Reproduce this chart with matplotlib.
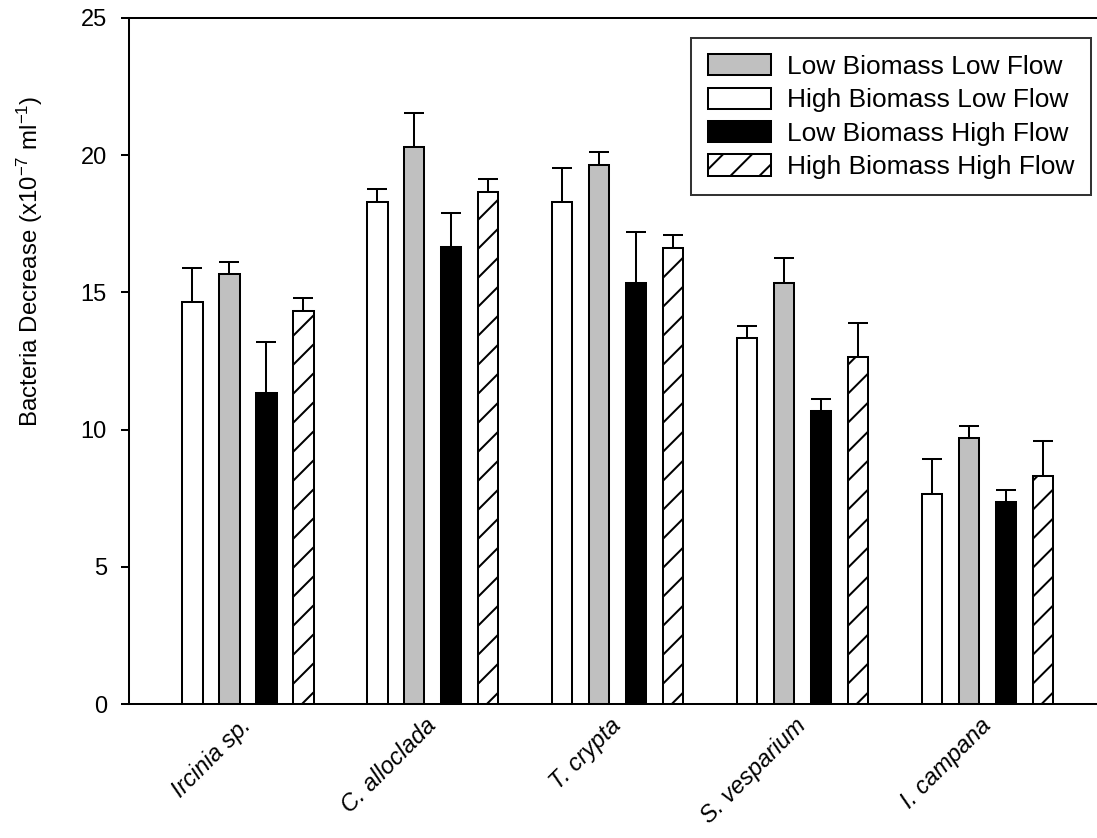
import numpy as np
import matplotlib
matplotlib.use("Agg")
import matplotlib.pyplot as plt
from matplotlib.patches import Rectangle
from matplotlib.collections import LineCollection
from matplotlib.legend_handler import HandlerBase

plt.rcParams["font.family"] = ["Liberation Sans", "DejaVu Sans"]
plt.rcParams["mathtext.fontset"] = "custom"
plt.rcParams["mathtext.rm"] = "Liberation Sans"
plt.rcParams["mathtext.default"] = "regular"

# ---- data -------------------------------------------------------------
species = ["Ircinia sp.", "C. alloclada", "T. crypta", "S. vesparium", "I. campana"]

high_bio_low_flow = [14.65, 18.30, 18.30, 13.33, 7.65]
high_bio_low_flow_se = [1.25, 0.48, 1.24, 0.46, 1.27]

low_bio_low_flow = [15.67, 20.31, 19.64, 15.33, 9.68]
low_bio_low_flow_se = [0.44, 1.24, 0.48, 0.92, 0.44]

low_bio_high_flow = [11.34, 16.66, 15.33, 10.69, 7.35]
low_bio_high_flow_se = [1.86, 1.23, 1.86, 0.42, 0.45]

high_bio_high_flow = [14.31, 18.65, 16.62, 12.66, 8.31]
high_bio_high_flow_se = [0.47, 0.47, 0.48, 1.24, 1.26]

y_ticks = [0, 5, 10, 15, 20, 25]

# ---- styling ----------------------------------------------------------
LW = 1.45
GRAY = "#c0c0c0"
HATCH_STEP_PX = 29.0
bar_w = 0.11
offsets = [-0.3, -0.1, 0.1, 0.3]

fig = plt.figure(figsize=(10.97, 8.38), dpi=100)
ax = fig.add_axes([129 / 1097, 1 - 704 / 838, (1097 - 129) / 1097, (704 - 18) / 838])
ax.set_xlim(-0.643, 4.592)
ax.set_ylim(0, 25)

x = np.arange(len(species))

series = [
    (high_bio_low_flow, high_bio_low_flow_se, "white", "High Biomass Low Flow"),
    (low_bio_low_flow, low_bio_low_flow_se, GRAY, "Low Biomass Low Flow"),
    (low_bio_high_flow, low_bio_high_flow_se, "black", "Low Biomass High Flow"),
    (high_bio_high_flow, high_bio_high_flow_se, "white", "High Biomass High Flow"),
]

containers = []
for (vals, se, color, label), off in zip(series, offsets):
    xs = x + off
    bc = ax.bar(xs, vals, width=bar_w, color=color, edgecolor="black",
                linewidth=LW, label=label, zorder=2)
    ax.errorbar(xs, vals, yerr=[np.zeros(len(vals)), se], fmt="none",
                ecolor="black", elinewidth=LW, capsize=7.2, capthick=LW,
                zorder=1.5)
    containers.append(bc)


def hatch_segments(x0, y0, w, h, step):
    """Diagonal (45 deg) segments covering a box, in the box's own units."""
    segs = []
    c = -w + (step * 0.4)
    while c < h:
        segs.append([(x0, y0 + c), (x0 + w, y0 + c + w)])
        c += step
    return segs


# sparse diagonal hatching on the last series, laid out in pixel space
inv = ax.transData.inverted()
for rect in containers[3].patches:
    (px0, py0) = ax.transData.transform((rect.get_x(), 0))
    (px1, py1) = ax.transData.transform((rect.get_x() + rect.get_width(), rect.get_height()))
    segs_px = hatch_segments(px0, py0, px1 - px0, py1 - py0, HATCH_STEP_PX)
    segs = [inv.transform(np.array(s)) for s in segs_px]
    lc = LineCollection(segs, colors="black", linewidths=LW, zorder=2.1)
    ax.add_collection(lc)
    lc.set_clip_path(rect)


class SparseHatchHandler(HandlerBase):
    def create_artists(self, legend, orig_handle, xdescent, ydescent,
                       width, height, fontsize, trans):
        r = Rectangle((-xdescent, -ydescent), width, height, facecolor="white",
                      edgecolor="black", linewidth=LW, transform=trans)
        step_pt = HATCH_STEP_PX * 72.0 / fig.dpi
        segs = hatch_segments(-xdescent, -ydescent, width, height, step_pt)
        lc = LineCollection(segs, colors="black", linewidths=LW, transform=trans)
        lc.set_clip_path(r)
        return [r, lc]


# axes frame
ax.spines["right"].set_visible(False)
for s in ("left", "top", "bottom"):
    ax.spines[s].set_linewidth(LW)

ax.set_yticks(y_ticks)
ax.tick_params(axis="y", direction="out", length=6, width=LW, pad=10, labelsize=17)
ax.set_xticks(x)
ax.set_xticklabels(species, rotation=45, ha="right", va="center",
                   rotation_mode="anchor", fontstyle="italic", fontsize=17)
ax.tick_params(axis="x", length=0, pad=13)

ax.set_ylabel("Bacteria Decrease (x10$^{-7}$ ml$^{-1}$)", fontsize=17.3)
ax.yaxis.set_label_coords(-0.087, 0.645)

order = [1, 0, 2, 3]
handles = [containers[i] for i in order]
labels = [series[i][3] for i in order]
leg = fig.legend(handles, labels, loc="upper right",
                 bbox_to_anchor=(1091 / 1097, 1 - 38 / 838),
                 bbox_transform=fig.transFigure, borderaxespad=0,
                 fontsize=19, frameon=True, fancybox=False, shadow=False,
                 handlelength=2.42, handleheight=0.85, handletextpad=0.6,
                 labelspacing=0.33, borderpad=0.62,
                 handler_map={containers[3]: SparseHatchHandler()})
leg.get_frame().set_edgecolor("black")
leg.get_frame().set_linewidth(LW)

fig.savefig("out.png", dpi=100, facecolor="white")
